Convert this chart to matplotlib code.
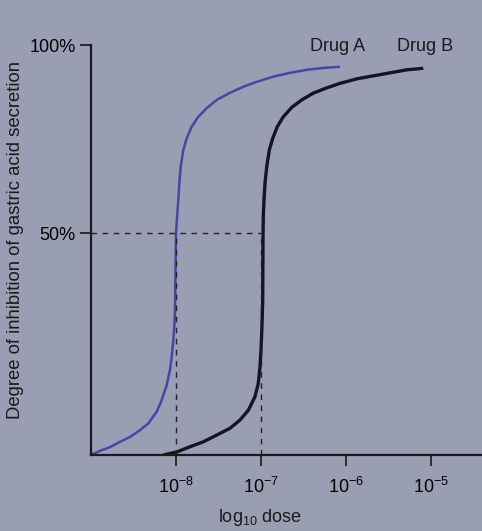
import numpy as np
import matplotlib
matplotlib.use('Agg')
import matplotlib.pyplot as plt
from matplotlib import font_manager

# fonts: narrow sans like the textbook figure (fall back to Liberation Sans)
names = {f.name for f in font_manager.fontManager.ttflist}
fam = 'Liberation Sans Narrow' if 'Liberation Sans Narrow' in names else 'Liberation Sans'
plt.rcParams['font.family'] = [fam, 'DejaVu Sans']
plt.rcParams['mathtext.fontset'] = 'custom'
plt.rcParams['mathtext.rm'] = fam
plt.rcParams['mathtext.it'] = fam
plt.rcParams['mathtext.default'] = 'regular'

# values (log10 dose, % inhibition)
drug_a_logdose = [-9.0, -8.894, -8.776, -8.659, -8.541, -8.424, -8.326, -8.227, -8.168, -8.109,
                  -8.071, -8.051, -8.032, -8.020, -8.012, -8.0,
                  -7.973, -7.961, -7.945, -7.914, -7.874, -7.815, -7.738, -7.639, -7.521,
                  -7.365, -7.208, -7.051, -6.855, -6.659, -6.462, -6.267, -6.071]
drug_a_pct = [-9.0, -7.9, -6.9, -5.5, -4.2, -2.4, -0.6, 2.5, 5.6, 9.6,
              13.6, 17.1, 21.5, 25.1, 29.5, 50.0,
              58.8, 63.2, 67.6, 72.1, 75.2, 78.3, 80.9, 83.2, 85.4,
              87.3, 88.9, 90.2, 91.6, 92.6, 93.4, 93.9, 94.2]

drug_b_logdose = [-8.149, -7.992, -7.835, -7.679, -7.521, -7.365, -7.247, -7.149, -7.071, -7.032,
                  -7.012, -7.0, -6.992, -6.985, -6.980, -6.976,
                  -6.973, -6.965, -6.953, -6.933, -6.902, -6.862, -6.808, -6.738, -6.639,
                  -6.521, -6.385, -6.227, -6.071, -5.874, -5.679, -5.482, -5.286, -5.091]
drug_b_pct = [-9.0, -8.2, -6.8, -5.5, -3.7, -1.9, 0.3, 2.9, 6.5, 10.0,
              14.4, 18.9, 23.3, 27.7, 32.2, 50.0,
              54.3, 58.8, 63.2, 67.6, 72.1, 75.2, 78.3, 80.9, 83.4,
              85.4, 87.2, 88.6, 89.8, 91.0, 91.8, 92.6, 93.4, 93.8]

tick_exp = [-8, -7, -6, -5]
ec50_logdose = [-8.0, -7.0]
y_ticks = [50, 100]
y_ticklabels = ['50%', '100%']
y_base = -9.0

bg = '#9a9eb2'
fig = plt.figure(figsize=(4.82, 5.31), dpi=100, facecolor=bg)
ax = fig.add_axes([91 / 482, 76 / 531, 391 / 482, 410 / 531], facecolor=bg)

ax.semilogx(10 ** np.array(drug_a_logdose), drug_a_pct, color='#4646a6', lw=1.8,
            solid_joinstyle='round', solid_capstyle='butt')
ax.semilogx(10 ** np.array(drug_b_logdose), drug_b_pct, color='#151520', lw=2.4,
            solid_joinstyle='round', solid_capstyle='butt')

# dashed guide lines at EC50
ax.plot([10 ** -9, 10 ** ec50_logdose[1]], [50, 50], ls=(0, (4, 4)), color='#222', lw=1)
for e in ec50_logdose:
    ax.plot([10 ** e, 10 ** e], [y_base, 50], ls=(0, (4, 4)), color='#222', lw=1)

ax.set_xlim(10 ** -9, 10 ** (-9 + 391 / 85))
ax.set_ylim(y_base, 100)

ax.set_xticks([10.0 ** e for e in tick_exp])
ax.set_xticklabels(['$10^{%d}$' % e for e in tick_exp], fontsize=13)
ax.xaxis.set_minor_locator(matplotlib.ticker.NullLocator())
ax.set_yticks(y_ticks)
ax.set_yticklabels(y_ticklabels, fontsize=13)
ax.tick_params(direction='out', length=8, width=1.3, color='#222', pad=3)
ax.tick_params(axis='x', pad=8)

for s in ['top', 'right']:
    ax.spines[s].set_visible(False)
for s in ['left', 'bottom']:
    ax.spines[s].set_linewidth(1.6)
    ax.spines[s].set_color('#1a1a1a')

ax.text(10 ** (-9 + (338 - 91) / 85), 99.5, 'Drug A', ha='center', va='center', fontsize=13, color='#1a1a1a')
ax.text(10 ** (-9 + (425 - 91) / 85), 99.5, 'Drug B', ha='center', va='center', fontsize=13, color='#1a1a1a')

fig.text(16 / 482, 1 - 240 / 531, 'Degree of inhibition of gastric acid secretion', rotation=90,
         ha='center', va='center', fontsize=13.3, color='#1a1a1a')
fig.text(260 / 482, 1 - 518 / 531, 'log$_{10}$ dose', ha='center', va='center', fontsize=13, color='#1a1a1a')

plt.savefig('out.png', dpi=100, facecolor=bg)
